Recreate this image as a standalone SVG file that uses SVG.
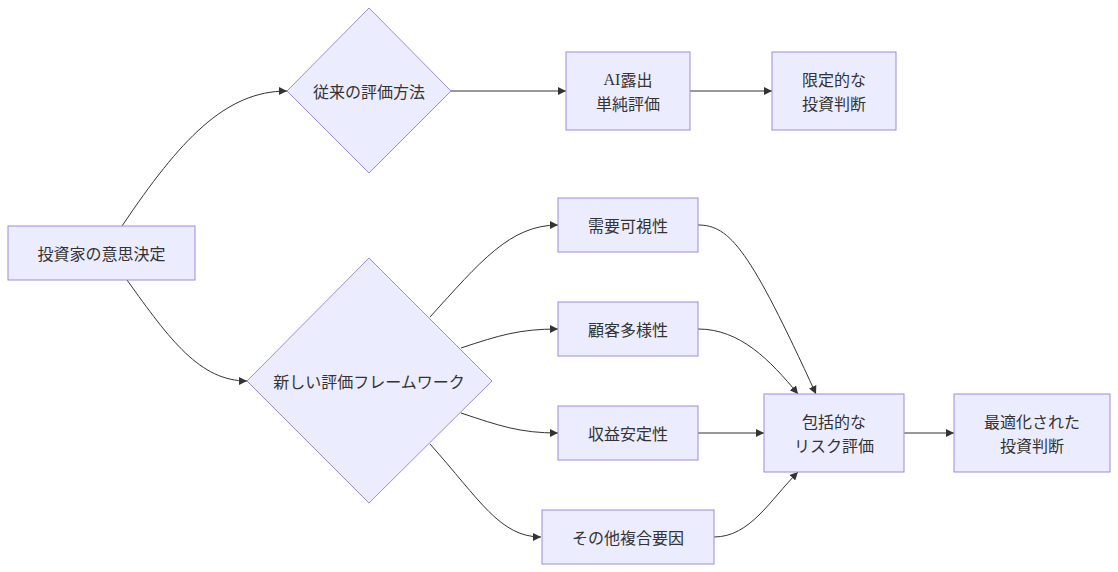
<svg xmlns="http://www.w3.org/2000/svg" width="1118" height="572" viewBox="0 0 1118 572">
<style>
.node rect, .node polygon { fill: #ECECFF; stroke: #9F8AD9; stroke-width: 1; }
.node text { font-family: "Noto Sans CJK JP", "Liberation Sans", sans-serif; font-size: 16px; fill: #333333; text-anchor: middle; dominant-baseline: central; }
.latin { font-family: "Liberation Serif", serif; }
.edges path { fill: none; stroke: #333333; stroke-width: 1; marker-end: url(#arrow); }
</style>
<defs>
<marker id="arrow" viewBox="0 0 10 10" refX="10" refY="5" markerWidth="8" markerHeight="8" markerUnits="userSpaceOnUse" orient="auto">
<path d="M0,0 L10,5 L0,10 z" fill="#333333"/>
</marker>
</defs>
<rect width="1118" height="572" fill="#ffffff"/>
<g class="edges">
<path d="M122,226 C180,140 225,91 287,91"/>
<path d="M127,280 C170,340 200,381 247,381"/>
<path d="M451,91 L566,91"/>
<path d="M690,91 L772,91"/>
<path d="M430,317 C480,262 510,225 558,225"/>
<path d="M461,348 C500,335 520,329 558,329"/>
<path d="M461,413 C500,426 520,433 558,433"/>
<path d="M430,444 C480,500 500,537 541,537"/>
<path d="M698,225 C730,225 750,250 816,394"/>
<path d="M698,329 C740,329 770,360 798,394"/>
<path d="M698,433 L764,433"/>
<path d="M714,537 C750,537 770,500 798,472"/>
<path d="M904,433 L954,433"/>
</g>
<g id="nodeA" class="node">
<rect x="8" y="226" width="187" height="54"/>
<text x="101.5" y="253">投資家の意思決定</text>
</g>
<g id="nodeB" class="node">
<polygon points="369,8 451,91 369,173 287,91"/>
<text x="369" y="91">従来の評価方法</text>
</g>
<g id="nodeC" class="node">
<polygon points="369,258 492,381 369,503 247,381"/>
<text x="369" y="381">新しい評価フレームワーク</text>
</g>
<g id="nodeD" class="node">
<rect x="566" y="52" width="124" height="78"/>
<text x="628" y="79"><tspan class="latin">AI</tspan>露出</text>
<text x="628" y="103">単純評価</text>
</g>
<g id="nodeE" class="node">
<rect x="772" y="52" width="124" height="78"/>
<text x="834" y="79">限定的な</text>
<text x="834" y="103">投資判断</text>
</g>
<g id="nodeF" class="node">
<rect x="558" y="198" width="140" height="54"/>
<text x="628" y="225">需要可視性</text>
</g>
<g id="nodeG" class="node">
<rect x="558" y="302" width="140" height="54"/>
<text x="628" y="329">顧客多様性</text>
</g>
<g id="nodeH" class="node">
<rect x="558" y="406" width="140" height="54"/>
<text x="628" y="433">収益安定性</text>
</g>
<g id="nodeI" class="node">
<rect x="542" y="510" width="172" height="54"/>
<text x="628" y="537">その他複合要因</text>
</g>
<g id="nodeJ" class="node">
<rect x="764" y="394" width="140" height="78"/>
<text x="834" y="421">包括的な</text>
<text x="834" y="445">リスク評価</text>
</g>
<g id="nodeK" class="node">
<rect x="954" y="394" width="156" height="78"/>
<text x="1032" y="421">最適化された</text>
<text x="1032" y="445">投資判断</text>
</g>
</svg>
